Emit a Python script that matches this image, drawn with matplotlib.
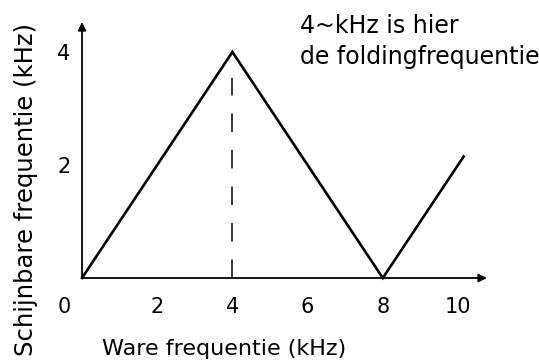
import numpy as np
import matplotlib.pyplot as plt

# true frequency vs apparent (aliased) frequency, sampling at 8 kHz
f_true = [0, 4, 8, 10.15]
f_alias = [0, 4, 0, 2.15]
fold = 4
xticks = [2, 4, 6, 8, 10]
yticks = [2, 4]

fig = plt.figure(figsize=(5.39, 3.6), dpi=100)
ax = fig.add_axes([0, 0, 1, 1])
ax.set_xlim(-82 / 37.6, (539 - 82) / 37.6)
ax.set_ylim((278 - 360) / 56.5, 278 / 56.5)
ax.axis('off')

# axes with arrow heads
arrow = dict(arrowstyle='-|>', mutation_scale=12, lw=1.3, color='black',
             shrinkA=0, shrinkB=0)
ax.annotate('', xy=(10.77, 0), xytext=(0, 0), arrowprops=arrow)
ax.annotate('', xy=(0, 4.53), xytext=(0, 0), arrowprops=arrow)

ax.plot(f_true, f_alias, color='black', lw=1.9, solid_joinstyle='miter')
ax.plot([fold, fold], [0, fold - 0.46], color='black', lw=1.1,
        dashes=(12.1, 11.8))

fs = 15
for x in xticks:
    ax.text(x, -0.52, str(x), ha='center', va='center', fontsize=fs)
ax.text(-0.47, -0.52, '0', ha='center', va='center', fontsize=fs)
for y in yticks:
    ax.text(-0.48, y - 0.03, str(y), ha='center', va='center', fontsize=fs)

ax.text(5.8, 4.34, '4~kHz is hier', fontsize=17, va='baseline')
ax.text(5.8, 3.78, 'de foldingfrequentie', fontsize=17, va='baseline',
        clip_on=False)

fig.text(224 / 539, 1 - 355 / 360, 'Ware frequentie (kHz)', ha='center',
         va='baseline', fontsize=16)
fig.text(33 / 539, 1 - 189 / 360, 'Schijnbare frequentie (kHz)', ha='center',
         va='baseline', rotation=90, rotation_mode='anchor', fontsize=17.5)

fig.savefig('out.png', dpi=100)
